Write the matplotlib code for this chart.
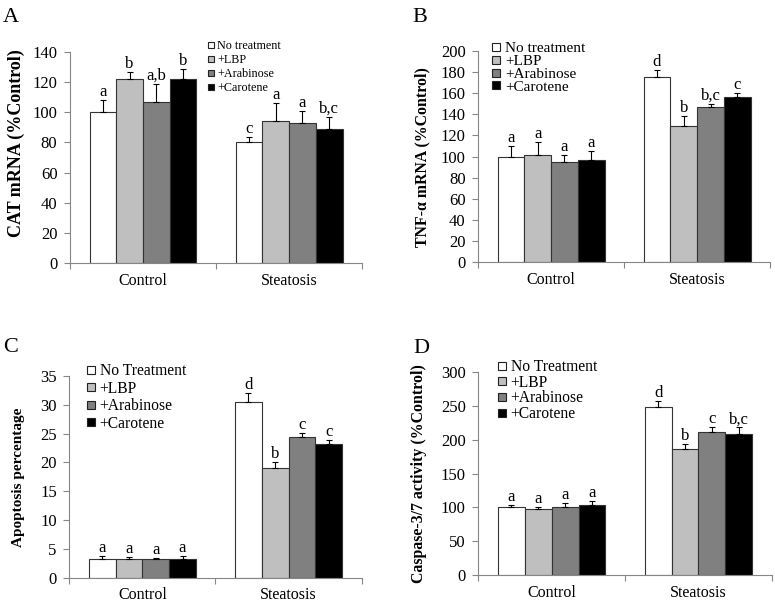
import numpy as np
import matplotlib.pyplot as plt
from matplotlib.lines import Line2D

plt.rcParams['font.family'] = ['Liberation Serif', 'DejaVu Serif']

groups = ['Control', 'Steatosis']
colors = ['white', '#bfbfbf', '#808080', 'black']
names_ab = ['No treatment', '+LBP', '+Arabinose', '+Carotene']
names_cd = ['No Treatment', '+LBP', '+Arabinose', '+Carotene']

# A - CAT mRNA
cat_ctrl = [100, 122, 107, 122]
cat_ctrl_err = [8, 5, 12, 7]
cat_stea = [80, 94, 93, 89]
cat_stea_err = [3.5, 12, 8, 8]
cat_sig = [['a', 'b', 'a,b', 'b'], ['c', 'a', 'a', 'b,c']]

# B - TNF-a mRNA
tnf_ctrl = [100, 102, 95, 97]
tnf_ctrl_err = [10, 12, 7, 8]
tnf_stea = [175, 129, 147, 156]
tnf_stea_err = [7, 9, 3, 4]
tnf_sig = [['a', 'a', 'a', 'a'], ['d', 'b', 'b,c', 'c']]

# C - apoptosis
apo_ctrl = [3.2, 3.2, 3.2, 3.2]
apo_ctrl_err = [0.5, 0.4, 0.2, 0.6]
apo_stea = [30.5, 19.0, 24.4, 23.2]
apo_stea_err = [1.6, 1.0, 0.7, 0.7]
apo_sig = [['a', 'a', 'a', 'a'], ['d', 'b', 'c', 'c']]

# D - caspase 3/7
cas_ctrl = [100, 98, 101, 103]
cas_ctrl_err = [3, 3, 6, 6]
cas_stea = [248, 186, 211, 208]
cas_stea_err = [9, 8, 7, 10]
cas_sig = [['a', 'a', 'a', 'a'], ['d', 'b', 'c', 'b,c']]

fig = plt.figure(figsize=(7.75, 6.05), dpi=100)


def panel(rect, ctrl, ctrl_err, stea, stea_err, sig, ymax, ystep, ylabel, lab_fs,
          lab_xy, names, leg_anchor, leg_fs, leg_sp, msize):
    ax = fig.add_axes(rect)
    w = 0.183
    for i in range(4):
        xs = [0.5 + (i - 1.5) * w, 1.5 + (i - 1.5) * w]
        vals = [ctrl[i], stea[i]]
        errs = [ctrl_err[i], stea_err[i]]
        ax.bar(xs, vals, w, color=colors[i], edgecolor='#333333', linewidth=0.8,
               yerr=[[0, 0], errs], capsize=2.5,
               error_kw=dict(elinewidth=0.8, capthick=0.8, ecolor='black'))
        for j in range(2):
            ax.annotate(sig[j][i], (xs[j], vals[j] + errs[j]), xytext=(0, 0),
                        textcoords='offset points', ha='center', va='bottom',
                        fontsize=12)
    ax.set_xlim(0, 2)
    ax.set_ylim(0, ymax)
    ax.set_yticks(np.arange(0, ymax + ystep / 2, ystep))
    ax.set_xticks([0.5, 1.5])
    ax.set_xticklabels(groups, fontsize=11.5)
    ax.set_xticks([0, 1, 2], minor=True)
    ax.tick_params(axis='x', which='major', length=0, pad=7)
    ax.tick_params(axis='x', which='minor', length=4, color='#868686', width=0.8)
    ax.tick_params(axis='y', length=4, color='#868686', width=0.8, labelsize=12, pad=5)
    for s in ['top', 'right']:
        ax.spines[s].set_visible(False)
    for s in ['left', 'bottom']:
        ax.spines[s].set_color('#868686')
        ax.spines[s].set_linewidth(0.8)
    # label x is the right edge of the rotated text
    ax.set_ylabel(ylabel, fontsize=lab_fs, fontweight='bold')
    ax.yaxis.set_label_coords(*lab_xy)
    handles = [Line2D([], [], ls='none', marker='s', markersize=msize,
                      markerfacecolor=c, markeredgecolor='#222222',
                      markeredgewidth=0.8, label=n)
               for c, n in zip(colors, names)]
    ax.legend(handles=handles, loc='upper left', bbox_to_anchor=leg_anchor,
              bbox_transform=fig.transFigure, frameon=False, borderpad=0,
              borderaxespad=0, handlelength=0.7, handletextpad=0.2,
              labelspacing=leg_sp, fontsize=leg_fs)
    return ax


panel([0.0903, 0.5653, 0.377, 0.3488], cat_ctrl, cat_ctrl_err, cat_stea, cat_stea_err,
      cat_sig, 140, 20, 'CAT mRNA (%Control)', 13, (-0.154, 0.566), names_ab,
      (0.2663, 0.9334), 8.7, 0.15, 5)
panel([0.6168, 0.5664, 0.377, 0.3494], tnf_ctrl, tnf_ctrl_err, tnf_stea, tnf_stea_err,
      tnf_sig, 200, 20, 'TNF-α mRNA (%Control)', 11.4, (-0.164, 0.5), names_ab,
      (0.6337, 0.9309), 11, -0.06, 6)
panel([0.0894, 0.0451, 0.3773, 0.3334], apo_ctrl, apo_ctrl_err, apo_stea, apo_stea_err,
      apo_sig, 35, 5, 'Apoptosis percentage', 11, (-0.152, 0.5), names_cd,
      (0.1105, 0.4), 11.25, 0.1, 6)
panel([0.6172, 0.0491, 0.3786, 0.3365], cas_ctrl, cas_ctrl_err, cas_stea, cas_stea_err,
      cas_sig, 300, 50, 'Caspase-3/7 activity (%Control)', 11.4, (-0.175, 0.5), names_cd,
      (0.6408, 0.4066), 11.25, -0.02, 6)

for letter, x, y in [('A', 0.004, 0.9636), ('B', 0.5316, 0.9636),
                     ('C', 0.004, 0.418), ('D', 0.533, 0.4165)]:
    fig.text(x, y, letter, fontsize=16, va='baseline')

fig.savefig('out.png', dpi=100)
